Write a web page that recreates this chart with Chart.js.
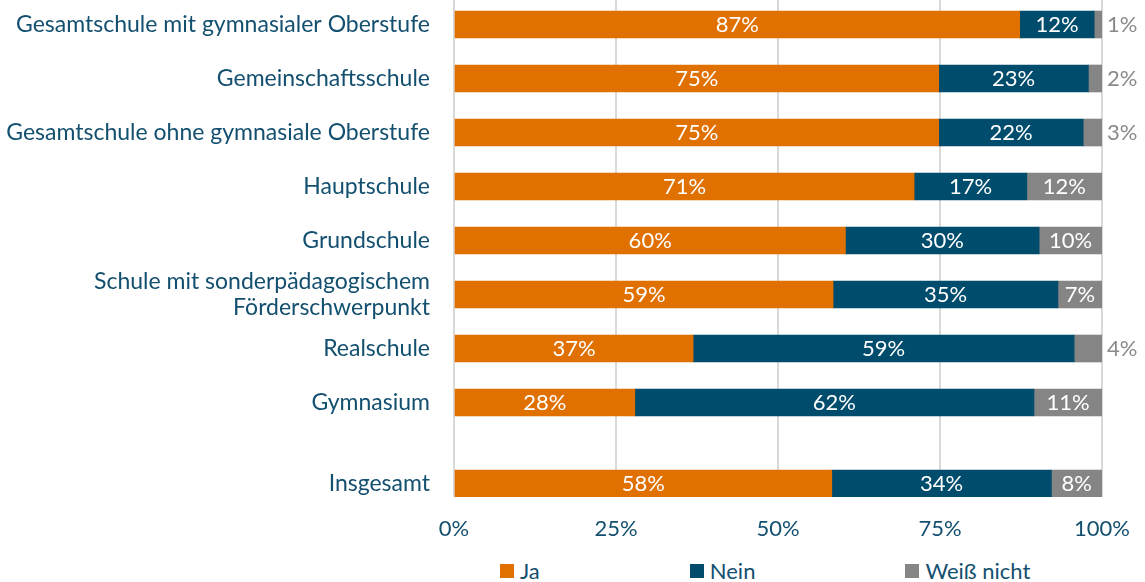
<!DOCTYPE html>
<html lang="de">
<head>
<meta charset="utf-8">
<title>Schulformen</title>
<script src="https://cdn.jsdelivr.net/npm/chart.js@4"></script>
<style>
    html, body { margin: 0; padding: 0; background: #fff; }
    body { width: 1145px; height: 582px; overflow: hidden; font-family: Lato, sans-serif; }
    #wrap { position: relative; width: 1145px; height: 550px; }
    #legend { display: flex; gap: 150px; padding-left: 500px; height: 41px; align-items: center; color: #134f6f; font-size: 22px; }
    .item { display: flex; align-items: center; }
    .swatch { width: 14px; height: 14px; margin-right: 6px; }
</style>
</head>
<body>
<div id="wrap"><canvas id="chart"></canvas></div>
<div id="legend"></div>
<script>
// Categories (top to bottom) and where each row sits on the y axis
const categories = [
    'Gesamtschule mit gymnasialer Oberstufe',
    'Gemeinschaftsschule',
    'Gesamtschule ohne gymnasiale Oberstufe',
    'Hauptschule',
    'Grundschule',
    ['Schule mit sonderpädagogischem', 'Förderschwerpunkt'],
    'Realschule',
    'Gymnasium',
    'Insgesamt'
];
const rowPos = [0, 1, 2, 3, 4, 5, 6, 7, 8.5];

// Shares in percent
const ja    = [87.3, 74.8, 74.8, 71.0, 60.4, 58.5, 36.9, 27.9, 58.3];
const nein  = [11.5, 23.1, 22.3, 17.4, 29.9, 34.7, 58.8, 61.6, 33.9];
const weiss = [ 1.2,  2.1,  2.9, 11.6,  9.7,  6.8,  4.3, 10.5,  7.8];

const xTicks = [0, 25, 50, 75, 100];

const textColor = '#134f6f';
const fontFamily = 'Lato, sans-serif';

const series = [
    { label: 'Ja', values: ja, color: '#e07000' },
    { label: 'Nein', values: nein, color: '#004c6c' },
    { label: 'Weiß nicht', values: weiss, color: '#858585' }
];

// value labels inside the segments, outside (grey) when the segment is too small
const barLabels = {
    id: 'barLabels',
    afterDatasetsDraw(chart) {
        const ctx = chart.ctx;
        ctx.save();
        ctx.font = '22px ' + fontFamily;
        ctx.textBaseline = 'middle';
        chart.data.datasets.forEach((ds, di) => {
            const meta = chart.getDatasetMeta(di);
            meta.data.forEach((bar, i) => {
                const text = Math.round(ds.data[i].x) + '%';
                const width = Math.abs(bar.x - bar.base);
                if (ctx.measureText(text).width + 6 < width) {
                    ctx.fillStyle = '#ffffff';
                    ctx.textAlign = 'center';
                    ctx.fillText(text, (bar.x + bar.base) / 2, bar.y);
                } else {
                    ctx.fillStyle = '#8a8a8a';
                    ctx.textAlign = 'left';
                    ctx.fillText(text, bar.x + 5, bar.y);
                }
            });
        });
        ctx.restore();
    }
};

const chart = new Chart(document.getElementById('chart'), {
    type: 'bar',
    data: {
        datasets: series.map(s => ({
            label: s.label,
            data: s.values.map((v, i) => ({ x: v, y: rowPos[i] })),
            backgroundColor: s.color,
            borderWidth: 0,
            barThickness: 27
        }))
    },
    options: {
        indexAxis: 'y',
        responsive: true,
        maintainAspectRatio: false,
        animation: false,
        layout: { padding: { top: 0, right: 43, bottom: 0, left: 0 } },
        plugins: {
            legend: { display: false },
            tooltip: { enabled: false }
        },
        scales: {
            x: {
                stacked: true,
                min: 0,
                max: 100,
                afterBuildTicks: (scale) => { scale.ticks = xTicks.map(v => ({ value: v })); },
                afterFit: (scale) => {
                    scale.height = 550 - 497;
                    scale.paddingRight = 0;
                },
                ticks: {
                    padding: 19,
                    color: textColor,
                    font: { size: 22, family: fontFamily },
                    callback: (v) => v + '%'
                },
                grid: { color: '#d9d9d9', lineWidth: 2, drawTicks: false },
                border: { display: false }
            },
            y: {
                type: 'linear',
                stacked: true,
                reverse: true,
                offset: false,
                min: -0.4537,
                max: 8.75,
                afterBuildTicks: (scale) => { scale.ticks = rowPos.map(v => ({ value: v })); },
                afterFit: (scale) => {
                    scale.width = 454;
                    scale.paddingTop = 0;
                    scale.paddingBottom = 0;
                },
                ticks: {
                    autoSkip: false,
                    padding: 24,
                    color: textColor,
                    font: { size: 23, family: fontFamily, lineHeight: 1.15 },
                    callback: (v) => categories[rowPos.indexOf(v)]
                },
                grid: { display: false, offset: false, drawTicks: false },
                border: { display: false }
            }
        }
    },
    plugins: [barLabels]
});

// legend below the chart
const legend = document.getElementById('legend');
series.forEach(s => {
    const item = document.createElement('div');
    item.className = 'item';
    item.innerHTML = `<div class="swatch" style="background:${s.color}"></div><span>${s.label}</span>`;
    legend.appendChild(item);
});
</script>
</body>
</html>
